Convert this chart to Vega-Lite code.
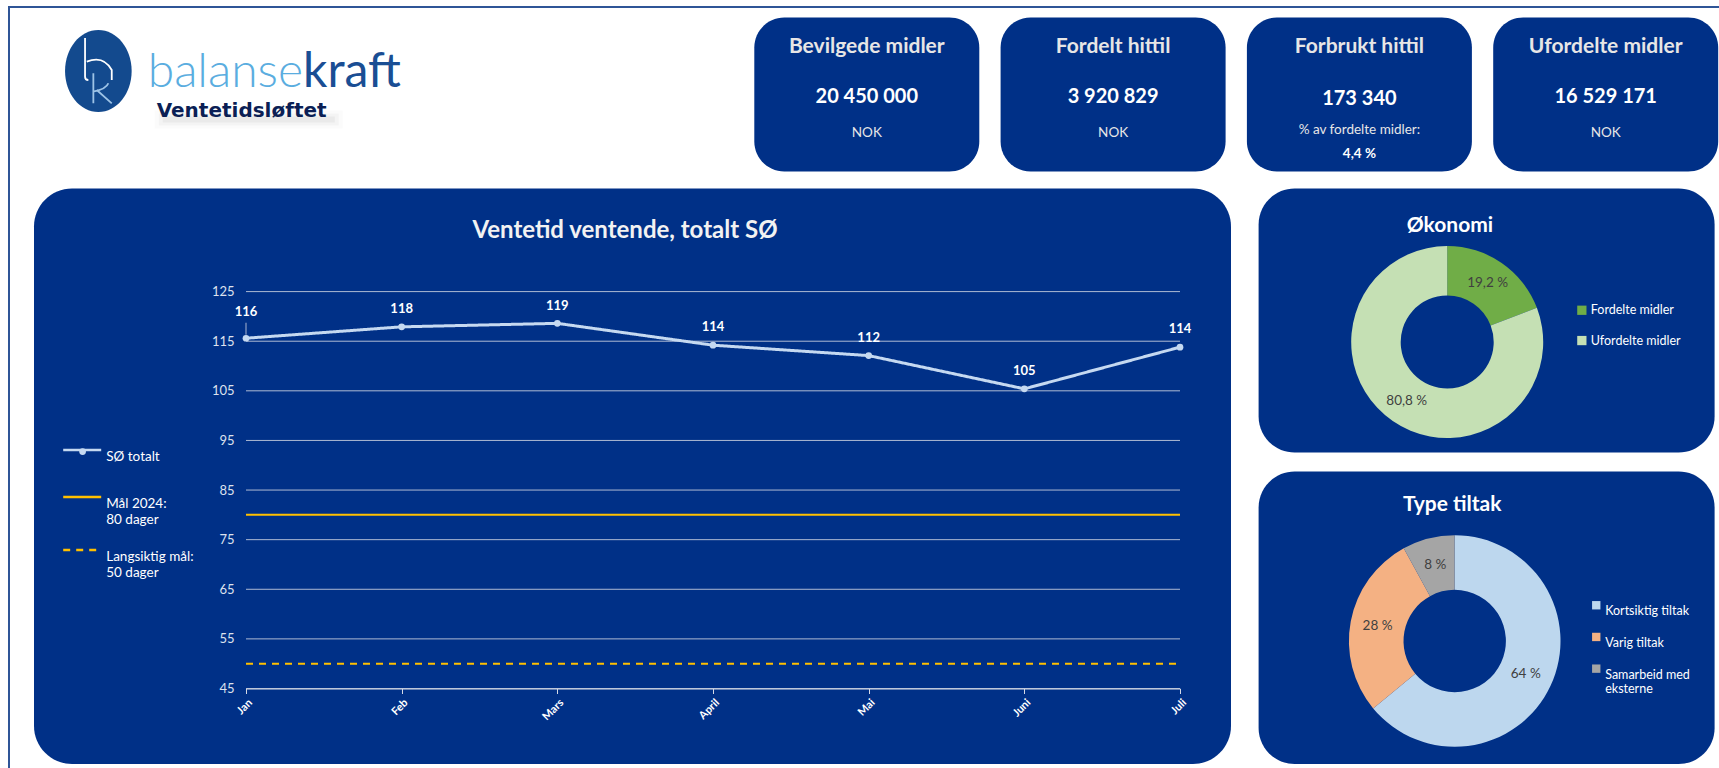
{
  "$schema": "https://vega.github.io/schema/vega-lite/v6.json",
  "background": "white",
  "padding": {"left": 8, "top": 6, "right": 0, "bottom": 0},
  "config": {
    "font": "Lato",
    "view": {"stroke": null, "fill": "#003087", "cornerRadius": 30},
    "concat": {"spacing": 0},
    "axis": {"title": null},
    "legend": {"labelFontWeight": "normal", "title": null, "labelLimit": 220, "labelOpacity": 1},
    "locale": {"number": {"decimal": ",", "thousands": "\u00a0", "grouping": [3], "currency": ["", " kr"], "percent": "\u00a0%"}},
    "title": {"font": "Lato", "fontWeight": "bold", "color": "#FFFFFF", "anchor": "middle", "frame": "group", "baseline": "middle"}
  },
  "datasets": {
    "kpi": [
      {"box": "Bevilgede midler", "amount": 20450000, "unit": "NOK"},
      {"box": "Fordelt hittil", "amount": 3920829, "unit": "NOK"},
      {"box": "Forbrukt hittil", "amount": 173340, "unit": "% av fordelte midler:", "share": 0.044},
      {"box": "Ufordelte midler", "amount": 16529171, "unit": "NOK"}
    ],
    "ventetid": [
      {"month": "Jan", "value": 115.6, "series": "SØ totalt"},
      {"month": "Feb", "value": 117.9, "series": "SØ totalt"},
      {"month": "Mars", "value": 118.6, "series": "SØ totalt"},
      {"month": "April", "value": 114.2, "series": "SØ totalt"},
      {"month": "Mai", "value": 112.1, "series": "SØ totalt"},
      {"month": "Juni", "value": 105.4, "series": "SØ totalt"},
      {"month": "Juli", "value": 113.8, "series": "SØ totalt"}
    ],
    "mal": [
      {"month": "Jan", "value": 80, "series": "Mål 2024: 80 dager"},
      {"month": "Feb", "value": 80, "series": "Mål 2024: 80 dager"},
      {"month": "Mars", "value": 80, "series": "Mål 2024: 80 dager"},
      {"month": "April", "value": 80, "series": "Mål 2024: 80 dager"},
      {"month": "Mai", "value": 80, "series": "Mål 2024: 80 dager"},
      {"month": "Juni", "value": 80, "series": "Mål 2024: 80 dager"},
      {"month": "Juli", "value": 80, "series": "Mål 2024: 80 dager"},
      {"month": "Jan", "value": 50, "series": "Langsiktig mål: 50 dager"},
      {"month": "Feb", "value": 50, "series": "Langsiktig mål: 50 dager"},
      {"month": "Mars", "value": 50, "series": "Langsiktig mål: 50 dager"},
      {"month": "April", "value": 50, "series": "Langsiktig mål: 50 dager"},
      {"month": "Mai", "value": 50, "series": "Langsiktig mål: 50 dager"},
      {"month": "Juni", "value": 50, "series": "Langsiktig mål: 50 dager"},
      {"month": "Juli", "value": 50, "series": "Langsiktig mål: 50 dager"}
    ],
    "grid": [
      {"value": 45}, {"value": 55}, {"value": 65}, {"value": 75}, {"value": 85},
      {"value": 95}, {"value": 105}, {"value": 115}, {"value": 125}
    ],
    "okonomi": [
      {"part": "Fordelte midler", "share": 0.192},
      {"part": "Ufordelte midler", "share": 0.808}
    ],
    "tiltak": [
      {"part": "Kortsiktig tiltak", "share": 0.64},
      {"part": "Varig tiltak", "share": 0.28},
      {"part": "Samarbeid med eksterne", "share": 0.08}
    ]
  },
  "spacing": 0,
  "resolve": {"scale": {"color": "independent", "strokeDash": "independent", "theta": "independent", "shape": "independent"}, "legend": {"color": "independent", "strokeDash": "independent", "shape": "independent"}},
  "vconcat": [
    {
      "width": 1711, "height": 2,
      "view": {"fill": "#2F5597", "cornerRadius": 0},
      "data": {"values": [{}]},
      "mark": {"type": "point", "size": 0, "filled": true, "strokeWidth": 0, "opacity": 0}
    },
    {
      "spacing": 24,
      "resolve": {"scale": {"color": "independent", "strokeDash": "independent", "theta": "independent", "shape": "independent"}, "legend": {"color": "independent", "strokeDash": "independent", "shape": "independent"}},
      "hconcat": [
        {
          "width": 2, "height": 760,
          "view": {"fill": "#2F5597", "cornerRadius": 0},
          "data": {"values": [{}]},
          "mark": {"type": "point", "size": 0, "filled": true, "strokeWidth": 0, "opacity": 0}
        },
        {
          "spacing": 8.5,
          "resolve": {"scale": {"color": "independent", "strokeDash": "independent", "theta": "independent", "shape": "independent"}, "legend": {"color": "independent", "strokeDash": "independent", "shape": "independent"}},
          "vconcat": [
            {
              "width": 1, "height": 1,
              "view": {"fill": "white"},
              "data": {"values": [{}]},
              "mark": {"type": "point", "size": 0, "filled": true, "strokeWidth": 0, "opacity": 0}
            },
            {
              "spacing": 17,
              "resolve": {"scale": {"color": "independent", "strokeDash": "independent", "theta": "independent", "shape": "independent"}, "legend": {"color": "independent", "strokeDash": "independent", "shape": "independent"}},
              "vconcat": [
                {
                  "spacing": 21.3,
                  "hconcat": [
                    {
                      "width": 698.7, "height": 154,
                      "view": {"fill": "white"},
                      "data": {"values": [{}]},
                      "layer": [
                        {"mark": {"type": "point", "shape": "M-33.3,0A33.3,41,0,1,1,33.3,0A33.3,41,0,1,1,-33.3,0Z", "size": 4, "filled": true, "color": "#134A8E", "opacity": 1, "strokeWidth": 0, "xOffset": -285, "yOffset": -23.5}},
                        {"mark": {"type": "point", "shape": "M-13.3,-33V5.7Q-13.3,9,-10,9M-11.6,-9.3Q5,-16,13.4,-1V9", "size": 4, "filled": false, "color": "#FFFFFF", "strokeWidth": 1.8, "opacity": 1, "xOffset": -285, "yOffset": -23.5}},
                        {"mark": {"type": "point", "shape": "M-5,2.3V32.3M-5,20.7Q8,18,10,12.3M-1.6,19L13.4,32.3", "size": 4, "filled": false, "color": "#9DC3E6", "strokeWidth": 1.8, "opacity": 1, "xOffset": -285, "yOffset": -23.5}},
                        {"mark": {"type": "text", "text": "balanse", "align": "right", "baseline": "alphabetic", "dx": -80.3, "dy": -7.8, "fontSize": 48, "fontWeight": 300, "color": "#5AADE0"}},
                        {"mark": {"type": "text", "text": "kraft", "align": "left", "baseline": "alphabetic", "dx": -80.3, "dy": -7.8, "fontSize": 48, "fontWeight": 400, "color": "#1A4E94"}},
                        {"mark": {"type": "point", "shape": "M-94,-9H94V9H-94Z", "size": 4, "filled": true, "color": "#9A9A9A", "opacity": 0.04, "strokeWidth": 0, "xOffset": -134.6, "yOffset": 25}},
                        {"mark": {"type": "point", "shape": "M-90,-6H90V6H-90Z", "size": 4, "filled": true, "color": "#8A8A8A", "opacity": 0.06, "strokeWidth": 0, "xOffset": -134.6, "yOffset": 25}},
                        {"mark": {"type": "point", "shape": "M-86,-3H86V3H-86Z", "size": 4, "filled": true, "color": "#7A7A7A", "opacity": 0.08, "strokeWidth": 0, "xOffset": -134.6, "yOffset": 25}},
                        {"mark": {"type": "text", "text": "Ventetidsløftet", "align": "left", "baseline": "middle", "dx": -226.7, "dy": 16.2, "font": "DejaVu Sans", "fontSize": 20, "fontWeight": "bold", "color": "#0B1F55"}}
                      ]
                    },
                    {
                      "spacing": 21.3,
                      "hconcat": [
                        {
                          "width": 225, "height": 154,
                          "view": {"fill": "#003087", "cornerRadius": 30},
                          "data": {"name": "kpi"},
                          "transform": [{"filter": "datum.box === 'Bevilgede midler'"}],
                          "layer": [
                            {"mark": {"type": "text", "dy": -47.8, "fontSize": 21, "fontWeight": "bold", "color": "#E7E6E6"}, "encoding": {"text": {"field": "box", "type": "nominal"}}},
                            {"mark": {"type": "text", "dy": 2.2, "fontSize": 20, "fontWeight": "bold", "color": "#FFFFFF"}, "encoding": {"text": {"field": "amount", "type": "quantitative", "format": ",.0f"}}},
                            {"mark": {"type": "text", "dy": 38.8, "fontSize": 13.5, "color": "#E7E6E6"}, "encoding": {"text": {"field": "unit", "type": "nominal"}}}
                          ]
                        },
                        {
                          "width": 225, "height": 154,
                          "view": {"fill": "#003087", "cornerRadius": 30},
                          "data": {"name": "kpi"},
                          "transform": [{"filter": "datum.box === 'Fordelt hittil'"}],
                          "layer": [
                            {"mark": {"type": "text", "dy": -47.8, "fontSize": 21, "fontWeight": "bold", "color": "#E7E6E6"}, "encoding": {"text": {"field": "box", "type": "nominal"}}},
                            {"mark": {"type": "text", "dy": 2.2, "fontSize": 20, "fontWeight": "bold", "color": "#FFFFFF"}, "encoding": {"text": {"field": "amount", "type": "quantitative", "format": ",.0f"}}},
                            {"mark": {"type": "text", "dy": 38.8, "fontSize": 13.5, "color": "#E7E6E6"}, "encoding": {"text": {"field": "unit", "type": "nominal"}}}
                          ]
                        },
                        {
                          "width": 225, "height": 154,
                          "view": {"fill": "#003087", "cornerRadius": 30},
                          "data": {"name": "kpi"},
                          "transform": [{"filter": "datum.box === 'Forbrukt hittil'"}],
                          "layer": [
                            {"mark": {"type": "text", "dy": -47.8, "fontSize": 21, "fontWeight": "bold", "color": "#E7E6E6"}, "encoding": {"text": {"field": "box", "type": "nominal"}}},
                            {"mark": {"type": "text", "dy": 4.8, "fontSize": 20, "fontWeight": "bold", "color": "#FFFFFF"}, "encoding": {"text": {"field": "amount", "type": "quantitative", "format": ",.0f"}}},
                            {"mark": {"type": "text", "dy": 35.5, "fontSize": 13.5, "color": "#E7E6E6"}, "encoding": {"text": {"field": "unit", "type": "nominal"}}},
                            {"mark": {"type": "text", "dy": 59.5, "fontSize": 13.5, "fontWeight": "bold", "color": "#FFFFFF"}, "encoding": {"text": {"field": "share", "type": "quantitative", "format": ".1%"}}}
                          ]
                        },
                        {
                          "width": 225, "height": 154,
                          "view": {"fill": "#003087", "cornerRadius": 30},
                          "data": {"name": "kpi"},
                          "transform": [{"filter": "datum.box === 'Ufordelte midler'"}],
                          "layer": [
                            {"mark": {"type": "text", "dy": -47.8, "fontSize": 21, "fontWeight": "bold", "color": "#E7E6E6"}, "encoding": {"text": {"field": "box", "type": "nominal"}}},
                            {"mark": {"type": "text", "dy": 2.2, "fontSize": 20, "fontWeight": "bold", "color": "#FFFFFF"}, "encoding": {"text": {"field": "amount", "type": "quantitative", "format": ",.0f"}}},
                            {"mark": {"type": "text", "dy": 38.8, "fontSize": 13.5, "color": "#E7E6E6"}, "encoding": {"text": {"field": "unit", "type": "nominal"}}}
                          ]
                        }
                      ]
                    }
                  ]
                },
                {
                  "spacing": 27.6,
                  "resolve": {"scale": {"color": "independent", "strokeDash": "independent", "theta": "independent", "shape": "independent"}, "legend": {"color": "independent", "strokeDash": "independent", "shape": "independent"}},
                  "hconcat": [
                    {
                      "width": 1197, "height": 575.5,
                      "view": {"fill": "#003087", "cornerRadius": 38},
                      "title": {"text": "Ventetid ventende, totalt SØ", "fontSize": 24, "color": "#F2F2F2", "offset": -54, "dx": -7.5},
                      "encoding": {
                        "x": {
                          "field": "month", "type": "ordinal", "sort": null,
                          "scale": {"type": "point", "domain": ["Jan", "Feb", "Mars", "April", "Mai", "Juni", "Juli"], "range": [212, 1146], "padding": 0},
                          "axis": {"offset": -75.5, "grid": false, "domain": true, "domainColor": "#D5D9E5", "ticks": true, "tickColor": "#D5D9E5", "tickSize": 5, "labelAngle": -45, "labelFontWeight": "bold", "labelFontSize": 11, "labelColor": "#FFFFFF", "labelPadding": 3}
                        },
                        "y": {
                          "field": "value", "type": "quantitative",
                          "scale": {"domain": [45, 125], "range": [500, 103.1], "nice": false, "zero": false},
                          "axis": {"offset": -212, "values": [45, 55, 65, 75, 85, 95, 105, 115, 125], "grid": false, "domain": false, "ticks": false, "labelPadding": 12, "labelFontSize": 13, "labelColor": "#DDE2EE"}
                        }
                      },
                      "layer": [
                        {
                          "data": {"name": "grid"},
                          "mark": {"type": "rule", "color": "#CDD2E0", "strokeWidth": 1, "opacity": 0.85},
                          "encoding": {"x": {"datum": "Jan", "type": "ordinal"}, "x2": {"datum": "Juli"}}
                        },
                        {
                          "data": {"name": "mal"},
                          "mark": {"type": "line", "strokeWidth": 2},
                          "encoding": {
                            "color": {
                              "field": "series", "type": "nominal",
                              "scale": {"domain": ["SØ totalt", "Mål 2024: 80 dager", "Langsiktig mål: 50 dager"], "range": ["#C5D9F1", "#FFC000", "#FFC000"]},
                              "legend": {"orient": "none", "legendX": 27.7, "legendY": 238, "symbolType": "stroke", "symbolSize": 1444, "symbolStrokeWidth": 2.5, "labelColor": "#FFFFFF", "labelFont": "Lato", "labelFontSize": 13.5, "labelOffset": 3.5, "labelLimit": 200, "clipHeight": 47, "rowPadding": 0, "labelBaseline": "top", "labelExpr": "datum.value === 'SØ totalt' ? 'SØ totalt' : [split(datum.value, ': ')[0] + ':', split(datum.value, ': ')[1]]", "encode": {"labels": {"dy": {"value": -6.5}, "lineHeight": {"value": 15.7}}}}
                            },
                            "strokeDash": {
                              "field": "series", "type": "nominal",
                              "scale": {"domain": ["SØ totalt", "Mål 2024: 80 dager", "Langsiktig mål: 50 dager"], "range": [[1, 0], [1, 0], [7, 6]]},
                              "legend": {"orient": "none", "legendX": 27.7, "legendY": 238, "symbolType": "stroke", "symbolSize": 1444, "symbolStrokeWidth": 2.5, "labelColor": "#FFFFFF", "labelFont": "Lato", "labelFontSize": 13.5, "labelOffset": 3.5, "labelLimit": 200, "clipHeight": 47, "rowPadding": 0, "labelBaseline": "top", "labelExpr": "datum.value === 'SØ totalt' ? 'SØ totalt' : [split(datum.value, ': ')[0] + ':', split(datum.value, ': ')[1]]", "encode": {"labels": {"dy": {"value": -6.5}, "lineHeight": {"value": 15.7}}}}
                            }
                          }
                        },
                        {
                          "data": {"name": "ventetid"},
                          "mark": {"type": "line", "strokeWidth": 3},
                          "encoding": {
                            "color": {"field": "series", "type": "nominal"},
                            "strokeDash": {"field": "series", "type": "nominal"}
                          }
                        },
                        {
                          "data": {"name": "ventetid"},
                          "mark": {"type": "point", "filled": true, "size": 45, "color": "#C5D9F1", "opacity": 1, "strokeWidth": 0},
                          "encoding": {
                            "shape": {
                              "datum": "SØ totalt", "type": "nominal",
                              "scale": {"domain": ["SØ totalt"], "range": ["circle"]},
                              "legend": {"orient": "none", "legendX": 43.6, "legendY": 258.1, "symbolSize": 45, "symbolFillColor": "#C5D9F1", "symbolStrokeWidth": 0, "labelExpr": "''", "labelOffset": 0}
                            }
                          }
                        },
                        {
                          "data": {"name": "ventetid"},
                          "transform": [{"filter": "datum.month !== 'Jan'"}],
                          "mark": {"type": "text", "fontSize": 13, "fontWeight": "bold", "color": "#FFFFFF", "dy": -17.7},
                          "encoding": {"text": {"field": "value", "type": "quantitative", "format": ".0f"}}
                        },
                        {
                          "data": {"name": "ventetid"},
                          "transform": [{"filter": "datum.month === 'Jan'"}],
                          "mark": {"type": "text", "fontSize": 13, "fontWeight": "bold", "color": "#FFFFFF", "dy": -26},
                          "encoding": {"text": {"field": "value", "type": "quantitative", "format": ".0f"}}
                        },
                        {
                          "data": {"name": "ventetid"},
                          "transform": [{"filter": "datum.month === 'Jan'"}],
                          "mark": {"type": "rule", "color": "#A9B4D0", "strokeWidth": 1, "yOffset": -3.5, "y2Offset": -15.5},
                          "encoding": {"y2": {"field": "value"}}
                        }
                      ]
                    },
                    {
                      "spacing": 19,
                      "resolve": {"scale": {"color": "independent", "theta": "independent"}, "legend": {"color": "independent"}},
                      "vconcat": [
                        {
                          "width": 456, "height": 264,
                          "view": {"fill": "#003087", "cornerRadius": 36},
                          "title": {"text": "Økonomi", "fontSize": 21, "offset": -47.7, "dx": -36.6},
                          "data": {"name": "okonomi"},
                          "encoding": {
                            "theta": {"field": "share", "type": "quantitative", "stack": true},
                            "order": {"field": "share", "sort": "ascending"}
                          },
                          "layer": [
                            {
                              "mark": {"type": "arc", "innerRadius": 46.5, "outerRadius": 96, "xOffset": -39.4, "yOffset": 21.5},
                              "encoding": {
                                "color": {
                                  "field": "part", "type": "nominal",
                                  "scale": {"domain": ["Fordelte midler", "Ufordelte midler"], "range": ["#70AD47", "#C5E0B4"]},
                                  "legend": {"orient": "none", "legendX": 317, "legendY": 115.5, "symbolType": "square", "symbolSize": 86, "labelColor": "#FFFFFF", "labelFont": "Lato", "labelFontSize": 12.5, "labelOffset": 2.7, "labelLimit": 200, "rowPadding": 17.3}
                                }
                              }
                            },
                            {
                              "mark": {"type": "text", "radius": 71.25, "xOffset": -39.4, "yOffset": 21.5, "fontSize": 13.5},
                              "encoding": {
                                "detail": {"field": "part", "type": "nominal"},
                                "color": {"value": "#404040"},
                                "text": {"field": "share", "type": "quantitative", "format": ".1%"}
                              }
                            }
                          ]
                        },
                        {
                          "width": 456, "height": 292.5,
                          "view": {"fill": "#003087", "cornerRadius": 36},
                          "title": {"text": "Type tiltak", "fontSize": 21, "offset": -43, "dx": -34.4},
                          "data": {"name": "tiltak"},
                          "encoding": {
                            "theta": {"field": "share", "type": "quantitative", "stack": true},
                            "order": {"field": "share", "sort": "descending"}
                          },
                          "layer": [
                            {
                              "mark": {"type": "arc", "innerRadius": 51.2, "outerRadius": 105.8, "xOffset": -31.9, "yOffset": 23.25},
                              "encoding": {
                                "color": {
                                  "field": "part", "type": "nominal",
                                  "scale": {"domain": ["Kortsiktig tiltak", "Varig tiltak", "Samarbeid med eksterne"], "range": ["#BDD7EE", "#F4B183", "#A5A5A5"]},
                                  "legend": {"orient": "none", "legendX": 331.4, "legendY": 127.5, "symbolType": "square", "symbolSize": 70, "labelColor": "#FFFFFF", "labelFont": "Lato", "labelFontSize": 12.5, "labelOffset": 2.7, "labelLimit": 200, "rowPadding": 12.7, "labelBaseline": "top", "labelExpr": "datum.value === 'Samarbeid med eksterne' ? ['Samarbeid med', 'eksterne'] : datum.value", "encode": {"labels": {"dy": {"value": -6}, "lineHeight": {"value": 15.3}}}}
                                }
                              }
                            },
                            {
                              "mark": {"type": "text", "radius": 78.5, "xOffset": -31.9, "yOffset": 23.25, "fontSize": 13.5},
                              "encoding": {
                                "detail": {"field": "part", "type": "nominal"},
                                "color": {"value": "#404040"},
                                "text": {"field": "share", "type": "quantitative", "format": ".0%"}
                              }
                            }
                          ]
                        }
                      ]
                    }
                  ]
                }
              ]
            }
          ]
        }
      ]
    }
  ]
}
